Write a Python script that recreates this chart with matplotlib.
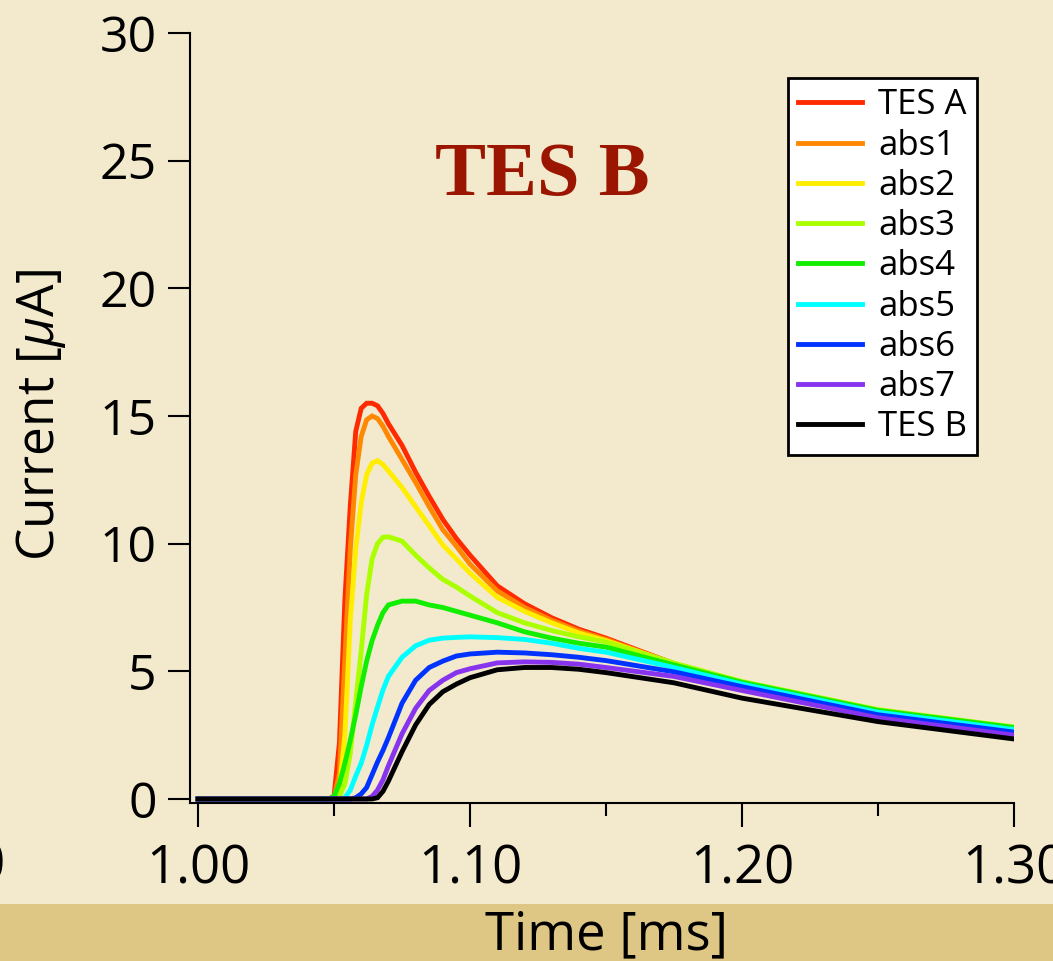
import matplotlib
matplotlib.use('Agg')
import matplotlib.pyplot as plt
from matplotlib.patches import Rectangle
from matplotlib.ticker import MultipleLocator, FormatStrFormatter

plt.rcParams['font.family'] = ['Open Sans', 'DejaVu Sans']
plt.rcParams['mathtext.fontset'] = 'custom'
plt.rcParams['mathtext.rm'] = 'Open Sans'
plt.rcParams['mathtext.it'] = 'Open Sans:italic'

# time axis [ms]
time_ms = [1.000, 1.048, 1.050, 1.052, 1.054, 1.056, 1.058, 1.060, 1.062, 1.064,
           1.066, 1.068, 1.070, 1.075, 1.080, 1.085, 1.090, 1.095, 1.100, 1.110,
           1.120, 1.130, 1.140, 1.150, 1.175, 1.200, 1.250, 1.300]

# current [uA] for each absorber position
tes_a = [0, 0, 0.1, 2.2, 7.8, 11.5, 14.4, 15.3, 15.5, 15.5, 15.4, 15.1, 14.7, 13.85,
         12.8, 11.85, 10.95, 10.2, 9.55, 8.35, 7.65, 7.1, 6.65, 6.3, 5.3, 4.55, 3.45, 2.78]
abs1 = [0, 0, 0.05, 1.0, 5.5, 9.8, 12.7, 14.2, 14.85, 15.0, 14.9, 14.6, 14.2, 13.3,
        12.4, 11.45, 10.55, 9.9, 9.2, 8.15, 7.5, 7.0, 6.58, 6.25, 5.3, 4.55, 3.45, 2.78]
abs2 = [0, 0, 0, 0.4, 2.5, 7.0, 9.8, 11.6, 12.7, 13.15, 13.25, 13.1, 12.85, 12.2,
        11.45, 10.7, 9.95, 9.4, 8.85, 7.9, 7.35, 6.9, 6.5, 6.2, 5.3, 4.56, 3.45, 2.78]
abs3 = [0, 0, 0, 0.1, 0.6, 1.8, 3.8, 5.8, 8.0, 9.4, 10.0, 10.25, 10.27, 10.1,
        9.55, 9.05, 8.6, 8.3, 7.95, 7.3, 6.9, 6.6, 6.35, 6.15, 5.32, 4.6, 3.5, 2.82]
abs4 = [0, 0, 0.1, 0.6, 1.4, 2.3, 3.3, 4.4, 5.4, 6.2, 6.8, 7.3, 7.6, 7.75,
        7.75, 7.6, 7.5, 7.35, 7.2, 6.9, 6.55, 6.3, 6.1, 5.95, 5.25, 4.57, 3.47, 2.8]
abs5 = [0, 0, 0, 0, 0.05, 0.35, 0.9, 1.4, 2.1, 2.9, 3.6, 4.27, 4.8, 5.55,
        6.0, 6.22, 6.3, 6.33, 6.35, 6.32, 6.25, 6.1, 5.9, 5.75, 5.15, 4.5, 3.4, 2.72]
abs6 = [0, 0, 0, 0, 0, 0, 0.05, 0.2, 0.45, 0.95, 1.45, 1.9, 2.4, 3.75,
        4.65, 5.15, 5.4, 5.6, 5.68, 5.75, 5.72, 5.65, 5.55, 5.42, 4.98, 4.4, 3.3, 2.62]
abs7 = [0, 0, 0, 0, 0, 0, 0, 0, 0, 0.1, 0.35, 0.75, 1.3, 2.55,
        3.55, 4.25, 4.65, 4.95, 5.1, 5.33, 5.37, 5.35, 5.28, 5.15, 4.8, 4.25, 3.18, 2.5]
tes_b = [0, 0, 0, 0, 0, 0, 0, 0, 0, 0, 0.05, 0.3, 0.7, 1.85,
         2.9, 3.7, 4.2, 4.5, 4.75, 5.06, 5.15, 5.15, 5.08, 4.95, 4.55, 3.95, 3.03, 2.35]

labels = ['TES A', 'abs1', 'abs2', 'abs3', 'abs4', 'abs5', 'abs6', 'abs7', 'TES B']
colors = ['#ff2a00', '#ff8800', '#ffee00', '#aaff00', '#11ee00',
          '#00ffff', '#0033ff', '#8833ee', '#000000']
series = [tes_a, abs1, abs2, abs3, abs4, abs5, abs6, abs7, tes_b]

fig = plt.figure(figsize=(10.53, 9.61), dpi=100)
fig.patch.set_facecolor('#f3e9cc')
fig.add_artist(Rectangle((0, 0), 1, 57 / 961, transform=fig.transFigure,
                         facecolor='#dec685', edgecolor='none', zorder=-1))

ax = fig.add_axes([190 / 1053, 158 / 961, 824 / 1053, 770 / 961])
ax.set_facecolor('none')

for y, c, lab in zip(series, colors, labels):
    ax.plot(time_ms, y, color=c, lw=3.5, label=lab, solid_joinstyle='miter')

ax.set_xlim(0.99706, 1.30)
ax.set_ylim(-0.157, 30)

for s in ['top', 'right']:
    ax.spines[s].set_visible(False)
for s in ['left', 'bottom']:
    ax.spines[s].set_linewidth(1.5)

ax.xaxis.set_major_locator(MultipleLocator(0.1))
ax.xaxis.set_minor_locator(MultipleLocator(0.05))
ax.xaxis.set_major_formatter(FormatStrFormatter('%.2f'))
ax.yaxis.set_major_locator(MultipleLocator(5))
ax.tick_params(axis='y', direction='out', length=16, width=1.5, pad=8, labelsize=36)
ax.tick_params(axis='x', which='major', direction='out', length=17, width=1.5,
               pad=12, labelsize=38)
ax.tick_params(axis='x', which='minor', direction='out', length=9, width=1.5)

ax.set_xlabel('Time [ms]', fontsize=38)
ax.xaxis.set_label_coords(0.505, -0.138)
ax.set_ylabel(r'Current [$\mu$A]', fontsize=37)
ax.yaxis.set_label_coords(-0.148, 0.504)

ax.text(0.428, 0.79, 'TES B', transform=ax.transAxes, ha='center', va='baseline',
        fontsize=55, fontweight='bold', family='Liberation Serif', color='#9b1600')

leg = ax.legend(loc='upper left', bbox_to_anchor=(788 / 1053, 883 / 961),
                bbox_transform=fig.transFigure, fontsize=25, frameon=True,
                fancybox=False, borderaxespad=0, borderpad=0.3,
                handlelength=1.83, handletextpad=0.46, labelspacing=0.18)
leg.get_frame().set_facecolor('white')
leg.get_frame().set_edgecolor('black')
leg.get_frame().set_linewidth(2)
leg.get_frame().set_alpha(1)

# tick label of neighbouring panel, cut at the left border
fig.text(6 / 1053, 94 / 961, '1.30', ha='right', va='center', fontsize=38)

fig.savefig('out.png', dpi=100, facecolor=fig.get_facecolor())
